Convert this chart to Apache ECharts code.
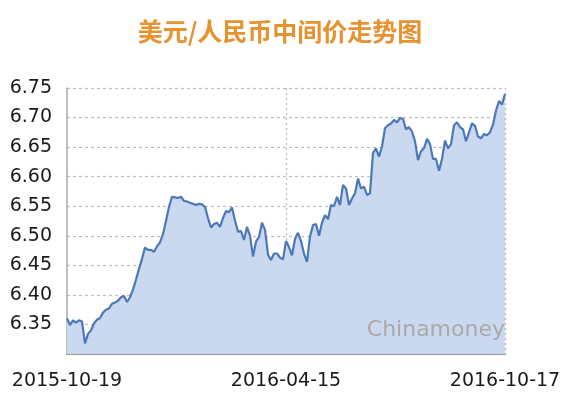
<!DOCTYPE html>
<html>
<head>
<meta charset="utf-8">
<script src="https://cdn.jsdelivr.net/npm/echarts@6/dist/echarts.min.js"></script>
<style>html,body{margin:0;padding:0;background:#fff}#c{width:572px;height:413px}</style>
</head>
<body>
<div id="c"></div>
<script>
const titleText = '美元/人民币中间价走势图';
const watermarkText = 'Chinamoney';
const tickLabels = ['2015-10-19', '2016-04-15', '2016-10-17'];
const values = [
  6.360, 6.349, 6.357, 6.353, 6.357, 6.355, 6.318, 6.334, 6.340, 6.352,
  6.358, 6.361, 6.370, 6.375, 6.377, 6.385, 6.387, 6.390, 6.396, 6.398,
  6.388, 6.396, 6.409, 6.426, 6.444, 6.461, 6.480, 6.476, 6.476, 6.473,
  6.482, 6.489, 6.503, 6.525, 6.549, 6.566, 6.565, 6.564, 6.566, 6.559,
  6.558, 6.556, 6.554, 6.552, 6.554, 6.553, 6.549, 6.530, 6.514, 6.520,
  6.522, 6.515, 6.530, 6.542, 6.540, 6.548, 6.526, 6.507, 6.508, 6.493,
  6.515, 6.500, 6.465, 6.490, 6.498, 6.522, 6.510, 6.468, 6.459, 6.470,
  6.470, 6.463, 6.460, 6.491, 6.481, 6.467, 6.495, 6.505, 6.491, 6.470,
  6.456, 6.499, 6.518, 6.520, 6.500, 6.522, 6.535, 6.528, 6.552, 6.550,
  6.566, 6.552, 6.586, 6.580, 6.552, 6.563, 6.572, 6.597, 6.580, 6.583,
  6.569, 6.572, 6.640, 6.648, 6.634, 6.651, 6.682, 6.687, 6.690, 6.696,
  6.692, 6.699, 6.698, 6.680, 6.684, 6.676, 6.660, 6.628, 6.643, 6.648,
  6.664, 6.655, 6.630, 6.630, 6.610, 6.630, 6.661, 6.648, 6.655, 6.687,
  6.692, 6.684, 6.680, 6.660, 6.675, 6.690, 6.686, 6.668, 6.665, 6.672,
  6.670, 6.675, 6.688, 6.712, 6.728, 6.722, 6.740
];
const categories = values.map((v, i) => i);
const tickIndices = [0, Math.floor((values.length - 1) / 2), values.length - 1];

const chart = echarts.init(document.getElementById('c'), null, {renderer: 'canvas'});
chart.setOption({
  backgroundColor: '#ffffff',
  animation: false,
  title: {
    text: titleText,
    left: 275, top: 14, textAlign: 'center',
    textStyle: {
      fontFamily: '"Noto Sans CJK SC", sans-serif',
      fontSize: 25, fontWeight: 'bold', color: '#E6922F'
    }
  },
  grid: {left: 67, right: 67, top: 88, bottom: 59, containLabel: false},
  xAxis: {
    type: 'category',
    data: categories,
    boundaryGap: false,
    axisLine: {show: true, lineStyle: {color: '#9a9a9a', width: 2}},
    axisTick: {show: false},
    axisLabel: {
      interval: (i) => tickIndices.includes(i),
      formatter: (v, i) => {
        const k = tickIndices.indexOf(Number(v));
        return k >= 0 ? tickLabels[k] : '';
      },
      showMinLabel: true, showMaxLabel: true,
      margin: 18,
      fontFamily: '"DejaVu Sans", sans-serif', fontSize: 19, color: '#1a1a1a'
    },
    splitLine: {
      show: true,
      interval: (i) => i === tickIndices[1] || i === tickIndices[2],
      lineStyle: {color: '#b8b8b8', type: [2, 3], width: 1.2}
    }
  },
  yAxis: {
    type: 'value',
    min: 6.30, max: 6.75, interval: 0.05,
    axisLine: {show: true, lineStyle: {color: '#a8a8a8', width: 1.5}},
    axisTick: {show: false},
    axisLabel: {
      showMinLabel: false,
      formatter: (v) => v.toFixed(2),
      margin: 15,
      fontFamily: '"DejaVu Sans", sans-serif', fontSize: 19, color: '#1a1a1a'
    },
    splitLine: {show: true, lineStyle: {color: '#bdbdbd', type: [3, 3], width: 1.2}}
  },
  graphic: [{
    type: 'text', z: 100, x: 505, y: 330, silent: true,
    style: {
      text: watermarkText, fill: '#a9a9a9',
      font: '22px "DejaVu Sans", sans-serif', align: 'right', verticalAlign: 'middle'
    }
  }],
  series: [{
    type: 'line',
    data: values,
    symbol: 'none',
    smooth: false,
    lineStyle: {color: '#4D78B8', width: 2.2},
    areaStyle: {color: '#CAD9F0', opacity: 1, origin: 'start'},
    z: 1
  }]
});
</script>
</body>
</html>
